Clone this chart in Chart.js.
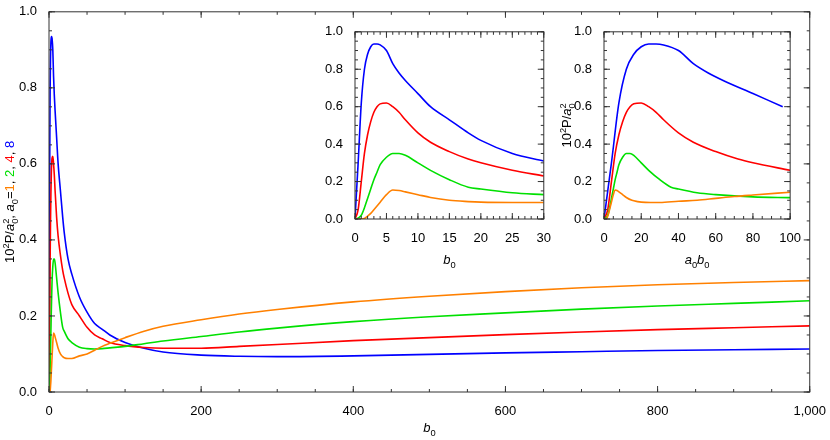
<!DOCTYPE html>
<html>
<head>
<meta charset="utf-8">
<script src="https://cdn.jsdelivr.net/npm/chart.js@4"></script>
<style>
  body { margin: 0; background: #fff; }
  #wrap { position: relative; width: 830px; height: 440px; }
  canvas { position: absolute; }
</style>
</head>
<body>
<div id="wrap">
  <canvas id="main" style="left:0;top:0" width="830" height="440"></canvas>
  <canvas id="inset1" style="left:320px;top:20px" width="235" height="255"></canvas>
  <canvas id="inset2" style="left:555px;top:20px" width="250" height="255"></canvas>
</div>
<script>
// b0 grid and P values (10^2 P / a0^2) for a0 = 1, 2, 4, 8
const B0 = [0, 0.5, 1, 1.5, 2, 2.5, 3, 3.5, 4, 5, 6, 7, 8, 10, 12, 15, 18, 20, 25, 30,
  40, 50, 60, 70, 80, 100, 125, 150, 200, 250, 300, 400, 500, 600, 700, 800, 900, 1000];
const P_A1 = [0, 0, 0, 0.003, 0.015, 0.03, 0.05, 0.07, 0.09, 0.13, 0.155, 0.152, 0.145, 0.13, 0.115, 0.1, 0.093, 0.09, 0.088, 0.088,
  0.095, 0.1, 0.11, 0.12, 0.128, 0.143, 0.16, 0.173, 0.19, 0.205, 0.217, 0.237, 0.252, 0.264, 0.274, 0.282, 0.288, 0.293];
const P_A2 = [0, 0.005, 0.02, 0.06, 0.11, 0.16, 0.21, 0.25, 0.29, 0.33, 0.35, 0.35, 0.34, 0.3, 0.26, 0.21, 0.17, 0.16, 0.14, 0.13,
  0.118, 0.114, 0.113, 0.114, 0.116, 0.12, 0.127, 0.134, 0.146, 0.158, 0.168, 0.185, 0.198, 0.208, 0.218, 0.226, 0.233, 0.24];
const P_A4 = [0, 0.05, 0.2, 0.35, 0.45, 0.52, 0.57, 0.6, 0.615, 0.62, 0.6, 0.57, 0.53, 0.46, 0.41, 0.36, 0.32, 0.3, 0.26, 0.23,
  0.2, 0.17, 0.15, 0.14, 0.13, 0.122, 0.117, 0.115, 0.115, 0.12, 0.125, 0.135, 0.143, 0.151, 0.158, 0.164, 0.169, 0.174];
const P_A8 = [0, 0.3, 0.62, 0.8, 0.88, 0.92, 0.935, 0.935, 0.93, 0.9, 0.83, 0.78, 0.74, 0.67, 0.6, 0.53, 0.46, 0.42, 0.35, 0.31,
  0.25, 0.21, 0.18, 0.165, 0.15, 0.13, 0.115, 0.105, 0.097, 0.094, 0.093, 0.095, 0.099, 0.103, 0.106, 0.109, 0.111, 0.113];

const A0 = [1, 2, 4, 8];
const SERIES = [P_A1, P_A2, P_A4, P_A8];
const COLORS = ['#ff8000', '#00e000', '#ff0000', '#0000ff'];

const FONT = "'Liberation Sans', Arial, sans-serif";

// draw text made of pieces (colors, italics, sub/superscripts)
function richText(ctx, parts, x, y, size, rotate) {
  const fontOf = p => (p.it ? 'italic ' : '') + (p.pos ? size * 0.72 : size) + 'px ' + FONT;
  let total = 0;
  parts.forEach(p => { ctx.font = fontOf(p); if (!p.keep) total += ctx.measureText(p.t).width; });
  ctx.save();
  ctx.translate(x, y);
  if (rotate) ctx.rotate(-Math.PI / 2);
  let cx = -total / 2;
  ctx.textBaseline = 'alphabetic';
  parts.forEach(p => {
    ctx.font = fontOf(p);
    ctx.fillStyle = p.c || '#000';
    const dy = p.pos === 'sub' ? size * 0.3 : p.pos === 'sup' ? -size * 0.42 : 0;
    ctx.fillText(p.t, cx, dy);
    if (!p.keep) cx += ctx.measureText(p.t).width;
  });
  ctx.restore();
}

const P_LABEL = [
  { t: '10' }, { t: '2', pos: 'sup' }, { t: 'P/' }, { t: 'a', it: true },
  { t: '0', pos: 'sub', keep: true }, { t: '2', pos: 'sup' }
];
const MAIN_Y_LABEL = P_LABEL.concat([
  { t: ', ' }, { t: 'a', it: true }, { t: '0', pos: 'sub' }, { t: '=' },
  { t: '1', c: COLORS[0] }, { t: ', ' }, { t: '2', c: COLORS[1] }, { t: ', ' },
  { t: '4', c: COLORS[2] }, { t: ', ' }, { t: '8', c: COLORS[3] }
]);
const B0_LABEL = [{ t: 'b', it: true }, { t: '0', pos: 'sub' }];
const A0B0_LABEL = [{ t: 'a', it: true }, { t: '0', pos: 'sub' }, { t: 'b', it: true }, { t: '0', pos: 'sub' }];

// frame with inward ticks on all four sides, plus titles
const framePlugin = {
  id: 'frame',
  afterDraw(chart, args, o) {
    const ctx = chart.ctx, a = chart.chartArea;
    const xs = chart.scales.x, ys = chart.scales.y;
    ctx.save();
    ctx.strokeStyle = '#333';
    ctx.lineWidth = 1;
    ctx.strokeRect(a.left, a.top, a.right - a.left, a.bottom - a.top);
    const ticks = (sc, step, len, horiz) => {
      for (let v = sc.min; v <= sc.max + 1e-9; v += step) {
        const p = sc.getPixelForValue(v);
        ctx.beginPath();
        if (horiz) {
          ctx.moveTo(p, a.bottom); ctx.lineTo(p, a.bottom - len);
          ctx.moveTo(p, a.top); ctx.lineTo(p, a.top + len);
        } else {
          ctx.moveTo(a.left, p); ctx.lineTo(a.left + len, p);
          ctx.moveTo(a.right, p); ctx.lineTo(a.right - len, p);
        }
        ctx.stroke();
      }
    };
    ticks(xs, o.xMajor, 6, true);
    ticks(xs, o.xMinor, 3, true);
    ticks(ys, o.yMajor, 6, false);
    ticks(ys, o.yMinor, 3, false);
    ctx.restore();
    if (o.xTitle) richText(ctx, o.xTitle, (a.left + a.right) / 2, o.xTitleY, 13, false);
    if (o.yTitle) richText(ctx, o.yTitle, o.yTitleX, (a.top + a.bottom) / 2, 13, true);
  }
};

function makeChart(id, xOf, xMax, maxB0, sizes, frame) {
  const datasets = SERIES.map((vals, i) => ({
    data: B0.map((b, j) => ({ x: xOf(b, A0[i]), y: vals[j] })).filter(p => p.x <= xMax * 1.01 && B0[0] <= maxB0),
    borderColor: COLORS[i],
    borderWidth: 1.6,
    pointRadius: 0,
    cubicInterpolationMode: 'monotone'
  }));
  return new Chart(document.getElementById(id), {
    type: 'line',
    data: { datasets },
    plugins: [framePlugin],
    options: {
      responsive: false,
      animation: false,
      clip: true,
      layout: { padding: { top: sizes.top, right: sizes.right } },
      plugins: { legend: { display: false }, tooltip: { enabled: false }, frame },
      scales: {
        x: {
          type: 'linear', min: 0, max: xMax,
          grid: { display: false }, border: { display: false },
          ticks: { stepSize: frame.xMajor, color: '#000', font: { family: FONT, size: 13 }, maxRotation: 0, padding: 4 },
          afterFit: s => { s.height = sizes.bottom; }
        },
        y: {
          min: 0, max: 1,
          grid: { display: false }, border: { display: false },
          ticks: { stepSize: 0.2, color: '#000', font: { family: FONT, size: 13 }, padding: 4,
            callback: v => v.toFixed(1) },
          afterFit: s => { s.width = sizes.left; }
        }
      }
    }
  });
}

makeChart('main', b => b, 1000, 1000, { top: 9, right: 12, bottom: 48, left: 49 },
  { xMajor: 200, xMinor: 50, yMajor: 0.2, yMinor: 0.05,
    xTitle: B0_LABEL, xTitleY: 432, yTitle: MAIN_Y_LABEL, yTitleX: 14 });
makeChart('inset1', b => b, 30, 30, { top: 11, right: 11, bottom: 56, left: 35 },
  { xMajor: 5, xMinor: 1, yMajor: 0.2, yMinor: 0.05,
    xTitle: B0_LABEL, xTitleY: 244 });
makeChart('inset2', (b, a) => a * b, 100, 100, { top: 11, right: 12, bottom: 56, left: 49 },
  { xMajor: 20, xMinor: 5, yMajor: 0.2, yMinor: 0.05,
    xTitle: A0B0_LABEL, xTitleY: 244, yTitle: P_LABEL, yTitleX: 16 });
</script>
</body>
</html>
